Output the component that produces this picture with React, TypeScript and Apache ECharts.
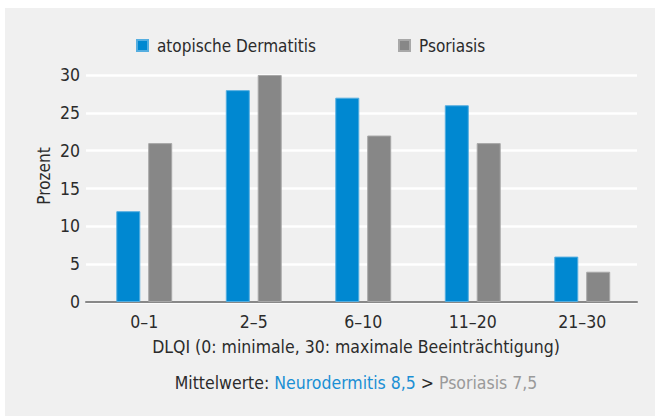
import React, { useEffect, useRef } from "react";
import * as echarts from "echarts";

const categories = ["0–1", "2–5", "6–10", "11–20", "21–30"];
const atopischeDermatitis = [12, 28, 27, 26, 6];
const psoriasis = [21, 30, 22, 21, 4];
const yTicks = [0, 5, 10, 15, 20, 25, 30];

const FONT = "'DejaVu Sans Condensed', 'Liberation Sans Narrow', sans-serif";
const BLUE = "#0088d1";
const GRAY = "#878787";
const TEXT = "#2b2b2b";

export default function App() {
  const ref = useRef<HTMLDivElement>(null);
  useEffect(() => {
    if (!ref.current) return;
    const chart = echarts.init(ref.current, null, { renderer: "svg" });
    const yMin = yTicks[0];
    const yMax = yTicks[yTicks.length - 1];
    chart.setOption({
      animation: false,
      backgroundColor: "#f0f0f0",
      textStyle: { fontFamily: FONT },
      grid: [
        { left: 81, right: 18, top: 67, bottom: 114, containLabel: false },
        { left: 84.5, right: 18, top: 67, bottom: 114, containLabel: false },
      ],
      legend: [
        {
          left: 131,
          top: 29,
          padding: 0,
          itemWidth: 11,
          itemHeight: 11,
          icon: "rect",
          data: ["atopische Dermatitis"],
          textStyle: { fontFamily: FONT, fontSize: 17, color: TEXT, padding: [0, 0, 0, 4] },
        },
        {
          left: 393,
          top: 29,
          padding: 0,
          itemWidth: 11,
          itemHeight: 11,
          icon: "rect",
          data: ["Psoriasis"],
          textStyle: { fontFamily: FONT, fontSize: 17, color: TEXT, padding: [0, 0, 0, 4] },
        },
      ],
      xAxis: [
        {
          type: "value",
          gridIndex: 0,
          min: 0,
          max: 1,
          axisLine: { show: true, onZero: false, lineStyle: { color: "#888888", width: 2 } },
          axisTick: { show: false },
          axisLabel: { show: false },
          splitLine: { show: false },
        },
        {
          type: "category",
          gridIndex: 1,
          data: categories,
          axisLine: { show: false },
          axisTick: { show: false },
          axisLabel: { fontFamily: FONT, fontSize: 17.5, color: TEXT, margin: 11 },
        },
      ],
      yAxis: [
        {
          type: "value",
          gridIndex: 0,
          min: yMin,
          max: yMax,
          interval: 5,
          axisLine: { show: false },
          axisTick: { show: false },
          axisLabel: { fontFamily: FONT, fontSize: 17.5, color: TEXT, margin: 6 },
          splitLine: { lineStyle: { color: "#ffffff", width: 2.5 } },
        },
        {
          type: "value",
          gridIndex: 1,
          min: yMin,
          max: yMax,
          interval: 5,
          show: false,
          splitLine: { show: false },
        },
      ],
      series: [
        {
          name: "atopische Dermatitis",
          type: "bar",
          xAxisIndex: 1,
          yAxisIndex: 1,
          data: atopischeDermatitis,
          barWidth: 24,
          barGap: "33%",
          itemStyle: { color: BLUE, borderColor: "#55aee0", borderWidth: 1 },
        },
        {
          name: "Psoriasis",
          type: "bar",
          xAxisIndex: 1,
          yAxisIndex: 1,
          data: psoriasis,
          barWidth: 24,
          barGap: "33%",
          itemStyle: { color: GRAY, borderColor: "#a8a8a8", borderWidth: 1 },
        },
      ],
      graphic: [
        {
          type: "text",
          x: 39,
          y: 168,
          rotation: Math.PI / 2,
          style: {
            text: "Prozent",
            fontFamily: FONT,
            fontSize: 17,
            fill: TEXT,
            align: "center",
            verticalAlign: "middle",
          },
        },
        {
          type: "text",
          x: 351,
          y: 339,
          style: {
            text: "DLQI (0: minimale, 30: maximale Beeinträchtigung)",
            fontFamily: FONT,
            fontSize: 17.5,
            fill: TEXT,
            align: "center",
            verticalAlign: "middle",
          },
        },
        {
          type: "text",
          x: 351,
          y: 375,
          style: {
            text: "{a|Mittelwerte: }{b|Neurodermitis 8,5}{a| > }{c|Psoriasis 7,5}",
            fontFamily: FONT,
            fontSize: 17.5,
            align: "center",
            verticalAlign: "middle",
            rich: {
              a: { fontFamily: FONT, fontSize: 17.5, fill: TEXT },
              b: { fontFamily: FONT, fontSize: 17.5, fill: "#1a8fd4" },
              c: { fontFamily: FONT, fontSize: 17.5, fill: "#9a9a9a" },
            },
          },
        },
      ],
    });
    return () => chart.dispose();
  }, []);
  return (
    <div
      ref={ref}
      style={{ position: "absolute", left: 5, top: 8, width: 650, height: 408 }}
    />
  );
}
